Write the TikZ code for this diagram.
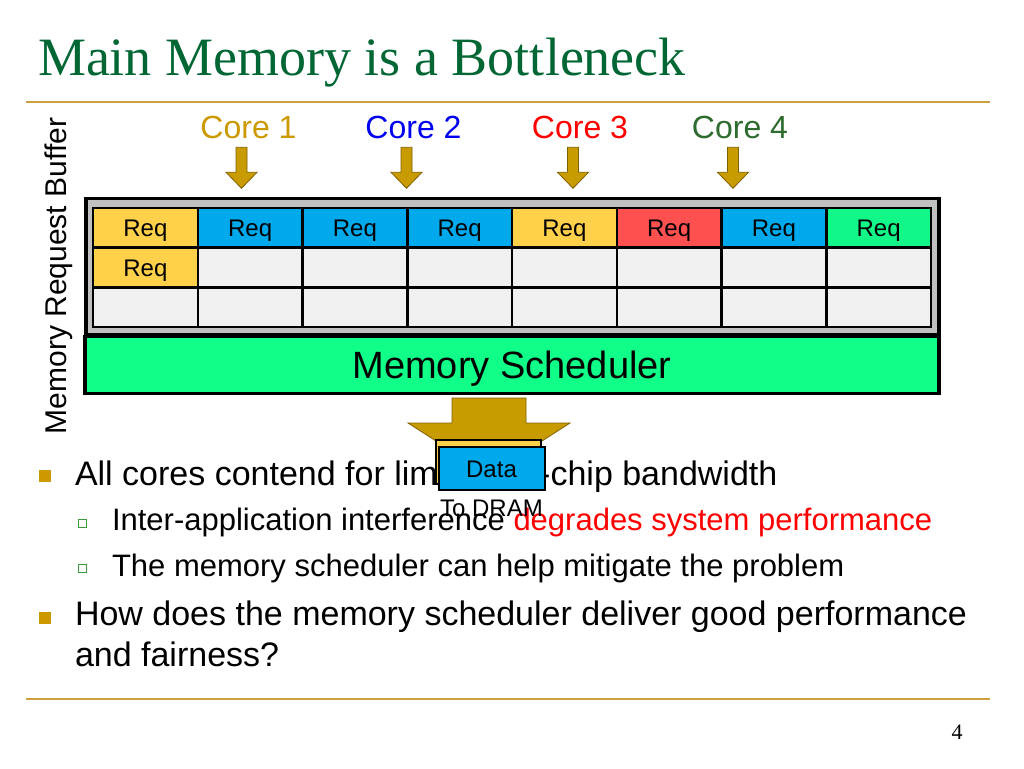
\documentclass[tikz,border=0pt]{standalone}
\usepackage{fontspec}
\setmainfont{Liberation Serif}
\setsansfont{Liberation Sans}
\usepackage{tikz}
\usetikzlibrary{calc,positioning}
\definecolor{TitleGreen}{HTML}{006633}
\definecolor{RuleGold}{HTML}{CCA040}
\definecolor{BulletGold}{HTML}{CC9900}
\definecolor{SubGreen}{HTML}{3A9A3A}
\definecolor{ArrowGold}{HTML}{C89B00}
\definecolor{ArrowEdge}{HTML}{806000}
\definecolor{CoreGold}{HTML}{CC9900}
\definecolor{CoreBlue}{HTML}{0000F0}
\definecolor{CoreRed}{HTML}{FF0000}
\definecolor{CoreGreen}{HTML}{2E6B2E}
\definecolor{ReqYellow}{HTML}{FFD04A}
\definecolor{ReqBlue}{HTML}{00A8EC}
\definecolor{ReqRed}{HTML}{FF5050}
\definecolor{ReqGreen}{HTML}{12F888}
\definecolor{SchedGreen}{HTML}{10FF88}
\definecolor{CellGrey}{HTML}{F0F0F0}
\definecolor{BufGrey}{HTML}{C0C0C0}
\newcommand{\fsz}[1]{\fontsize{#1}{#1}\selectfont}

\begin{document}
\begin{tikzpicture}[x=1pt, y=-1pt,
  every node/.style={font=\sffamily, inner sep=0pt, outer sep=0pt},
  bodytext/.style={anchor=base west, font=\sffamily\fsz{34}},
  subtext/.style={anchor=base west, font=\sffamily\fsz{31}},
  mainbullet/.style={fill=BulletGold, minimum size=12pt},
  subbullet/.style={draw=SubGreen, fill=white, line width=0.9pt, minimum size=8pt},
  corelabel/.style={anchor=base, font=\sffamily\fsz{32}},
  cell/.style={draw, line width=2.5pt, fill=CellGrey, minimum width=104.75pt,
    minimum height=39.7pt, anchor=north west, font=\sffamily\fsz{24},
    text height=17.2pt, text depth=0pt},
  bigbox/.style={draw, line width=3.5pt, anchor=north west},
  blockarrow/.style={fill=ArrowGold, draw=ArrowEdge, line width=0.8pt, line join=miter},
  pics/corearrow/.style={code={
    \draw[blockarrow] (-5.5,0) -- (5.5,0) -- (5.5,25) -- (15.5,25) -- (0,41)
      -- (-15.5,25) -- (-5.5,25) -- cycle;}}]
  \fill[white] (0,0) rectangle (1024,768);
  \useasboundingbox (0,0) rectangle (1024,768);

  % title and rules
  \node[anchor=base west, text=TitleGreen, font=\rmfamily\fsz{54}] (title) at (38,75)
    {Main Memory is a Bottleneck};
  \draw[RuleGold, line width=2.5pt] (26,102) -- (990,102);
  \draw[RuleGold, line width=2.5pt] (26,699) -- (990,699);
  \node[anchor=base, font=\rmfamily\fsz{22}] (pagenum) at (957,739) {4};

  % bullets
  \node[mainbullet] (bul1) at (44.5,476) {};
  \node[bodytext] (txt1) at (75,485) {All cores contend for limited off-chip bandwidth};
  \node[subbullet] (sub1) at (82,523) {};
  \node[subtext] (txt2) at (112,530)
    {Inter-application interference \textcolor{CoreRed}{degrades system performance}};
  \node[subbullet] (sub2) at (82,568) {};
  \node[subtext] (txt3) at (112,576) {The memory scheduler can help mitigate the problem};
  \node[mainbullet] (bul2) at (44.5,618) {};
  \node[bodytext] (txt4) at (75,625) {How does the memory scheduler deliver good performance};
  \node[bodytext] (txt5) at (75,666) {and fairness?};

  % request buffer
  \node[rotate=90, anchor=base, font=\sffamily\fsz{30}] (buflabel) at (66,276)
    {Memory Request Buffer};
  \node[bigbox, fill=BufGrey, minimum width=853pt, minimum height=136.5pt] (buf)
    at (86,198.5) {};
  \foreach \col [count=\i from 0] in {ReqYellow,ReqBlue,ReqBlue,ReqBlue,ReqYellow,ReqRed,ReqBlue,ReqGreen} {
    \node[cell, fill=\col] (r0c\i) at ({93+\i*104.75},208) {Req};
    \node[cell] (r1c\i) at ({93+\i*104.75},247.7) {};
    \node[cell] (r2c\i) at ({93+\i*104.75},287.4) {};
  }
  \node[cell, fill=ReqYellow] (r1c0) at (93,247.7) {Req};

  % scheduler
  \node[bigbox, fill=SchedGreen, minimum width=854pt, minimum height=57pt,
    font=\sffamily\fsz{38}, text height=27.2pt, text depth=0pt] (sched)
    at (85,336.5) {Memory Scheduler};

  % cores
  \node[corelabel, text=CoreGold] (core1) at (248.5,138) {Core 1};
  \node[corelabel, text=CoreBlue] (core2) at (413.5,138) {Core 2};
  \node[corelabel, text=CoreRed] (core3) at (580,138) {Core 3};
  \node[corelabel, text=CoreGreen] (core4) at (740,138) {Core 4};
  \foreach \c in {core1,core2,core3,core4}
    \pic at ($(\c.south)+(-7,9)$) {corearrow};

  % to DRAM
  \draw[blockarrow] (452,398) -- (526,398) -- (526,423) -- (570,423) -- (489,475)
    -- (408,423) -- (452,423) -- cycle;
  \node[draw, line width=2pt, fill=ReqYellow, minimum width=105pt, minimum height=44pt,
    anchor=north west] (dataq) at (436,440) {};
  \node[draw, line width=2pt, fill=ReqBlue, minimum width=106pt, minimum height=43pt,
    anchor=north west, font=\sffamily\fsz{24}, text height=17.2pt, text depth=0pt]
    (data) at (438.5,447) {Data};
  \node[below=10pt of data, font=\sffamily\fsz{24}] (todram) {To DRAM};
\end{tikzpicture}
\end{document}
